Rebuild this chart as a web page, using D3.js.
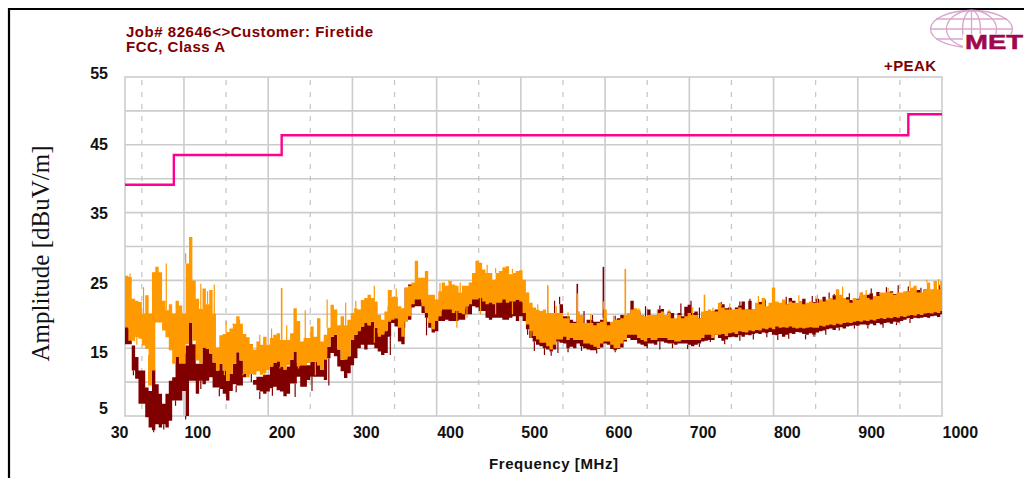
<!DOCTYPE html>
<html>
<head>
<meta charset="utf-8">
<title>Radiated emissions</title>
<script src="https://cdn.jsdelivr.net/npm/d3@7"></script>
<style>
  html, body { margin: 0; padding: 0; background: #fff; overflow: hidden; }
  text { font-family: "Liberation Sans", Arial, sans-serif; }
</style>
</head>
<body>
<div id="chart"></div>
<script>
// envelope of each sweep, one bin every 4 MHz from 30 MHz
var freq = d3.range(30, 1000, 4);

var orangeHi = [
  25.7,25.5,22.3,22,21.8,20.1,22.8,20.1,26.2,27,26.2,22,20.6,21.5,20.1,22,21.3,20.1,27.5,31.4,25,22.3,20.8,23.8,21.5,23.6,20.1,15.1,16.9,17.1,17.4,17.9,18.6,19.7,18.6,17.1,16.6,15.6,
  14.8,16,15.5,16.7,15.5,16.5,17,17.2,16.2,16.2,16.2,17.2,20.9,19,16,16.5,16.5,18.2,16.7,19.4,16,17,18,21.4,20.7,18.4,19.7,18.4,19.2,20.2,20.9,20.7,22.1,22.4,22.9,22.4,21.9,19.9,19.2,20.4,23.6,22.6,22.6,21.2,20.9,23.9,
  24.2,24.7,27.9,25.4,25.4,26.4,22.9,22.9,22.2,23.4,24.7,24.2,24.9,24.4,24.2,23.2,24.2,24.2,24.7,26.1,27.9,27.6,26.6,26.1,26.1,25.1,26.1,26.4,26.9,27.1,25.9,26.1,26.4,26.5,25.1,23.2,21.7,21,20.7,20.5,20.7,20.2,20.2,20.2,20.2,20.2,
  19.4,19.4,18.7,18.7,20.4,19.9,18.7,18.7,18.7,18.4,18.7,18.9,20.7,18.4,18.9,19.2,19.2,19.4,19.9,20.2,20.7,20.9,20.7,19.9,19.7,19.9,19.9,19.9,20.2,20.4,19.9,20.2,19.4,19.4,19.9,19.4,19.7,20.2,19.9,19.9,19.4,20.4,20.4,20.7,20.4,20.4,
  21.7,21,20.7,20.7,20.7,20.8,21,20.7,20.8,20.7,20.8,21.7,21.5,22.4,21.2,21.7,23.9,21.9,21.7,22.2,21.5,21.9,21.7,21.7,21.9,21.5,21.7,21.9,21.7,21.7,22.2,21.9,22.2,22.4,22.2,23.7,22.9,22.4,22.2,21.7,22.4,22.2,23.2,22.9,22.4,22.2,22.7,22.7,23.2,23.2,23.2,23.2,22.9,23.2,23.2,23.4,23.4,23.9,24.2,23.2,23.2,23.7,24.7,23.7,24.9,23.7,24.9
];

var orangeLo = [
  18.1,16.1,16.1,16.6,16.4,15.4,14.9,9.5,11.7,18.8,18.8,17.6,16.6,14.7,12.7,13.7,12.7,12.7,15.6,18.8,16.1,13.2,12.7,15.1,14.9,14.2,12.9,11.7,12.7,11.7,10.2,11.2,12.7,14.4,13.2,11.2,10.7,11.2,
  11.1,11.6,11.1,11.3,11.8,12.3,12.8,13,12.3,11.8,12.5,13.3,14.5,12.3,12.5,12.5,12.8,13,13,12.5,11.8,13.3,15.2,16.7,17,14.8,13.3,13.3,13.8,16.2,17,17.5,18.2,18.7,18.4,18.9,18,16.7,17,17.5,18.9,19.2,19.4,18,16.7,18.9,
  19.7,21.5,22.2,22.2,21.2,20.2,18.7,17.8,19,19.7,20.7,20.7,20.7,20.2,20.5,20.2,20,21.2,21.5,22.2,22.2,22.4,21.9,21.5,21.7,21.5,21.7,21.7,22.2,21.7,21.9,21.9,22.2,21.9,20.2,18.5,17.5,16.8,16.3,15.8,15.8,15.3,14.8,15.5,16.3,16.3,
  16.7,16.2,16.5,16.2,16.2,16.2,15.7,15.7,15.5,15.2,15,15.7,16,16,15.5,15,15,15.7,16.2,17,17,17,16.5,16.2,16,16.5,16.2,16.2,16.5,16.5,16.5,16.2,16.2,16,16,16.2,16.2,16.2,16.2,16.2,16.2,16.5,17,17,16.5,17,
  17,17.1,16.8,17.2,17.3,17.1,17.5,17.4,17.3,17.6,17.5,17.7,17.6,17.9,17.8,18,17.8,18.2,18,18.1,18,18.2,18,17.9,18,17.9,18,18.1,18,18,18.3,18.2,18.4,18.5,18.4,18.6,18.5,18.7,18.8,18.7,18.9,19,18.9,19.1,19,19.2,19.1,19.3,19.4,19.3,19.5,19.4,19.6,19.5,19.7,19.6,19.8,19.9,19.8,20,19.9,20.1,20.2,20.1,20.3,20.2,20.5
];

var maroonHi = [
  18.1,17.9,15.4,13.7,11.7,11.7,9.2,8.7,11.9,9.7,8.3,6.8,8.3,10.2,10.7,13.7,13.7,14.2,15.4,18.8,15.6,12.7,12.7,15.1,14.9,14.2,12.9,11.7,12.7,11.7,10.2,11.2,12.7,14.4,13.2,11.2,10.7,15.6,
  10.3,10.8,10.8,11.1,11.1,12.3,12.8,13.3,12.3,12,12.3,13.3,14.5,12.8,12.5,12.5,12.5,13,13,12.5,11.8,13.8,15.2,16.7,17,14.8,13.3,13.5,13.8,16.2,17,17.7,18.2,18.7,18.4,18.9,18,17.2,17.2,17.7,21.2,21.7,19.4,19.2,19.2,23.9,
  24.4,24.4,22.4,22.6,21.7,20.5,19,18,19.5,20.5,20.8,21,21,20.7,20.7,20.5,20.8,21.2,22.2,22.4,22.7,23.3,22.4,22.2,21.9,22.2,22.4,22.2,22.4,22.8,22.2,22.7,22.2,22.4,21.7,20.7,20.8,20.8,20.2,20.2,20.2,19,19,20.2,20.2,21.5,
  19.7,19.7,19.2,18.9,19.4,19.4,18.7,19.2,19.2,18.9,18.9,19.2,19.4,18.9,18.7,19.2,19.4,19.9,19.9,20.2,22,20.7,20.4,19.9,19.4,20.7,19.7,19.9,20.7,20.8,19.9,20.4,20.2,19.2,20.2,19.7,21.1,21.4,20.2,20.4,19.4,19.9,20.4,19.9,20.4,20.7,
  21.2,21.5,20.9,21,20.5,21,21.3,21.9,20.6,22,20.7,21.6,21.8,22,21,21.2,21.5,21,21.4,21.9,21.5,22.4,22,21.6,21.9,22.3,21.5,21.4,21.8,22.3,21.8,22.6,22,22.2,22.8,22,22.2,21.9,22.5,22.1,21.9,22.3,22.7,22.4,22.9,23.1,22.2,23.3,22.8,22.6,23.2,23.4,23,22.9,23.1,22.6,23.4,23.8,23.5,23.6,23.1,23.7,23.2,23.3,23.7,23.4,23.9
];

var maroonLo = [
  15.6,15.6,11.7,10.5,6.8,6.8,4.8,3.3,2.9,3.8,3.3,3.8,3.3,4.3,7.3,7.3,7.3,8.7,5,10.2,10.2,8.3,10.2,9.7,10.2,10.7,9.2,9.2,9,8.3,7.3,8.7,9.7,9.5,9.5,10.7,10.7,11.2,
  9.6,8.8,8.6,8.3,8.6,9.1,9.3,8.8,8.6,7.9,8.3,9.8,9.8,10.8,9.3,9.3,10.3,10.8,10.8,10.8,10.8,10.3,13.5,14.3,13.8,12.3,11.6,10.6,11.3,12.5,13.5,15,15.5,14.8,15.5,15.5,15,14.5,14,14.3,16.7,18.7,18.2,16,15.6,19.7,
  19.2,21,21.2,21.2,20.2,19.5,18,17.3,17.5,19,19,19.2,19,19,19,19.2,19.2,20,20,21.2,21,20.5,20.5,19.5,19.2,19.5,19.5,19.5,19.2,19.2,19.5,19.7,19,19.7,19,17.8,16.5,16,15.5,15.3,15,14.8,14.5,14.8,16,15.8,
  15.7,15,15.2,15,15.7,15.3,15,14.8,14.7,14.7,14.9,15.1,15.7,15.5,14.9,14.7,14.9,15.1,16,16.5,16.2,16.2,15.7,15.5,15.3,15.7,15.7,15.5,16,16,15.8,15.7,15.7,15.5,15.7,15.7,15.7,15.5,15.3,15.5,15.7,16,16.1,16.2,16.2,17,
  16.5,16.1,16.3,16.6,16.7,16.6,16.9,16.7,17,16.9,17.1,17.2,17.1,17.3,17.2,17.4,17,16.9,17.1,16.7,17,17.2,17.1,17.4,17.3,17.1,17,17.2,17,17.3,17.5,17.6,17.8,17.9,17.7,18,18.1,17.9,18.2,18.3,18.4,18.3,18.5,18.5,18.4,18.6,18.4,18.7,18.5,18.7,18.8,18.6,18.9,18.8,19,19.2,19.4,19.3,19.5,19.4,19.5,19.6,19.5,19.7,19.8,19.6,20
];

// narrow emissions that stick out of the band
var orangeSpikeFreq = [216, 532, 567, 598, 624, 718];
var orangeSpikeTop = [23.9, 24.3, 23.1, 21.9, 26.7, 22.9];
var maroonSpikeFreq = [567, 598];
var maroonSpikeTop = [24.5, 27];

// thin hairs on the band edges
var orangeUpFreq = [36,52,64,70,79,102,120,128,136,150,158,166,190,204,222,244,270,292,304,326,346,352,388,404,414,428,460,470,480,490,508,520,542,556,583,610,640,662,676,704,728,748,782,800,830,852,882,910,936,962,982,996];
var orangeUpTop = [26,24,23.5,23.5,27.5,29,24.5,23.4,24.4,19,18.5,19.2,17,17.9,18.4,20.6,22.2,21.7,22,24.2,23.6,23.8,24,24.6,25,24.7,27.3,26.8,27,26.7,21.9,21.5,21.2,20.3,20,19.8,20.9,20.6,20.7,21,21,21.6,22.7,24,22.8,22.9,24.1,23.6,23.9,24.9,25.1,25.2];
var orangeDownFreq = [44,58,148,170,196,214,236,256,290,326,424,436,452,470,490,512];
var orangeDownEnd = [15.5,14,11,11,11,12,12,11,14,15.8,18,19.5,20,20,20,16.5];
var maroonUpFreq = [540,546,575,585,612,648,665,690,702,712,738,760,772,790,815,846,866,872,890,905,916,934,948,960,975,997];
var maroonUpTop = [22,22.6,20.5,19.9,19.8,21.2,21.3,21.6,22,21,21.8,21.9,22.3,22.2,22.6,22.7,23.2,23,23.1,23.2,23.8,24,24.3,24.1,23.9,24.3];
var maroonDownFreq = [40,64,76,90,102,120,142,162,180,190,205,232,252,272,345,362,388,508,516,528,536,544,556,572,590,612,650,665,680,698,712,725,742,760,776,792,805,818,838,848,862,878,896,912,930,946,962,985];
var maroonDownEnd = [11,2.6,3,6.5,4.5,9,7.9,8.5,10,7.5,8,7.8,8.7,9.5,14,18,16.9,17,14.6,14,13.9,14.3,14.4,14.6,14.2,14.4,15,14.8,15,14.9,15.2,15.9,15.6,16.1,16.3,16.6,16.2,16.4,16.3,16.7,17,17.6,17.9,17.9,18,18.4,18.7,19.6];

// FCC class A limit
var limitFreq = [30, 88, 216, 960, 1000];
var limitValue = [39.1, 43.5, 46.4, 49.5, 49.5];

var gridFreq = [100, 200, 300, 400, 500, 600, 700, 800, 900];
var dashFreq = [50, 150, 250, 350, 450, 550, 650, 750, 850, 950];
var gridAmp = [10, 15, 20, 25, 30, 35, 40, 45, 50];
var freqTicks = [30, 100, 200, 300, 400, 500, 600, 700, 800, 900, 1000];
var ampTicks = [5, 15, 25, 35, 45, 55];

var maroon = "#800000", orange = "#ff9900", pink = "#ff0090", gridGrey = "#cccccc";

var margin = {top: 77, right: 82, bottom: 62, left: 125},
    width = 1024 - margin.left - margin.right,
    height = 478 - margin.top - margin.bottom;

var outer = d3.select("#chart").append("svg")
    .attr("width", 1024)
    .attr("height", 478)
    .style("display", "block");

// page frame, the right and bottom sides are cut off in the picture
outer.append("path")
    .attr("d", "M9,478V9H1024")
    .attr("fill", "none")
    .attr("stroke", "#000")
    .attr("stroke-width", 2.2);

var svg = outer.append("g")
    .attr("transform", "translate(" + margin.left + "," + margin.top + ")");

var x = d3.scaleLinear().domain([30, 1000]).range([0, width]);
var y = d3.scaleLinear().domain([5, 55]).range([height, 0]);

svg.append("rect")
    .attr("width", width)
    .attr("height", height)
    .attr("fill", "none")
    .attr("stroke", gridGrey)
    .attr("stroke-width", 1.6);

svg.append("g").selectAll("line").data(gridFreq).enter().append("line")
    .attr("x1", function(d) { return x(d); })
    .attr("x2", function(d) { return x(d); })
    .attr("y2", height)
    .attr("stroke", gridGrey)
    .attr("stroke-width", 1.6);

svg.append("g").selectAll("line").data(gridAmp).enter().append("line")
    .attr("y1", function(d) { return y(d); })
    .attr("y2", function(d) { return y(d); })
    .attr("x2", width)
    .attr("stroke", gridGrey)
    .attr("stroke-width", 1.6);

svg.append("g").selectAll("line").data(dashFreq).enter().append("line")
    .attr("x1", function(d) { return x(d); })
    .attr("x2", function(d) { return x(d); })
    .attr("y1", 3)
    .attr("y2", height)
    .attr("stroke", "#c4c4c4")
    .attr("stroke-width", 1.2)
    .attr("stroke-dasharray", "5,7");

// stepped area, one closing point so the last bin keeps its width
function drawBand(hi, lo, color) {
    var last = hi.length - 1;
    var band = d3.area()
        .x(function(d) { return x(d); })
        .y0(function(d, i) { return y(lo[Math.min(i, last)]); })
        .y1(function(d, i) { return y(hi[Math.min(i, last)]); })
        .curve(d3.curveStepAfter);
    svg.append("path")
        .attr("d", band(freq.concat([1000])))
        .attr("fill", color);
}

// vertical line from the band edge in that bin out to the given value
function drawSpikes(f, end, edge, color, w) {
    svg.append("g").selectAll("line").data(f).enter().append("line")
        .attr("x1", function(d) { return x(d); })
        .attr("x2", function(d) { return x(d); })
        .attr("y1", function(d, i) { return y(end[i]); })
        .attr("y2", function(d) { return y(edge[Math.floor((d - 30) / 4)]); })
        .attr("stroke", color)
        .attr("stroke-width", w);
}

drawBand(maroonHi, maroonLo, maroon);
drawSpikes(maroonSpikeFreq, maroonSpikeTop, maroonHi, maroon, 1.6);
drawSpikes(maroonUpFreq, maroonUpTop, maroonHi, maroon, 1.2);
drawSpikes(maroonDownFreq, maroonDownEnd, maroonLo, maroon, 1.2);
drawBand(orangeHi, orangeLo, orange);
drawSpikes(orangeSpikeFreq, orangeSpikeTop, orangeHi, orange, 1.6);
drawSpikes(orangeUpFreq, orangeUpTop, orangeHi, orange, 1.2);
drawSpikes(orangeDownFreq, orangeDownEnd, orangeLo, orange, 1.2);

var limitLine = d3.line()
    .x(function(d) { return x(d); })
    .y(function(d, i) { return y(limitValue[i]); })
    .curve(d3.curveStepAfter);

svg.append("path")
    .attr("d", limitLine(limitFreq))
    .attr("fill", "none")
    .attr("stroke", pink)
    .attr("stroke-width", 2.4);

// the original labels sit right of their gridline and drift a little from the y grid
var xAxis = svg.append("g")
    .attr("transform", "translate(0," + height + ")")
    .call(d3.axisBottom(x).tickValues(freqTicks).tickSize(0).tickFormat(d3.format("d")));
xAxis.select(".domain").remove();
xAxis.selectAll("text")
    .attr("text-anchor", function(d) { return d === 30 ? "end" : "start"; })
    .attr("dx", function(d) { return d === 30 ? 3 : 0; })
    .attr("y", 11)
    .attr("dy", "0.71em")
    .attr("fill", "#111")
    .style("font-size", "16px")
    .style("font-weight", "bold");

var ampNudge = {5: -8, 15: 4, 25: 2.5, 35: 0.5, 45: -0.7, 55: -3.7};
var yAxis = svg.append("g")
    .call(d3.axisLeft(y).tickValues(ampTicks).tickSize(0));
yAxis.select(".domain").remove();
yAxis.selectAll("text")
    .attr("x", -17)
    .attr("dy", function(d) { return ampNudge[d] + 5.5; })
    .attr("fill", "#111")
    .style("font-size", "16px")
    .style("font-weight", "bold");

outer.append("text")
    .attr("x", 126).attr("y", 37)
    .attr("fill", maroon)
    .style("font-size", "15px").style("font-weight", "bold")
    .attr("textLength", 247)
    .text("Job# 82646<>Customer: Firetide");
outer.append("text")
    .attr("x", 126).attr("y", 52)
    .attr("fill", maroon)
    .style("font-size", "15px").style("font-weight", "bold")
    .attr("textLength", 99)
    .text("FCC, Class A");
outer.append("text")
    .attr("x", 884).attr("y", 71)
    .attr("fill", maroon)
    .style("font-size", "15px").style("font-weight", "bold")
    .attr("textLength", 52)
    .text("+PEAK");

outer.append("text")
    .attr("x", 489).attr("y", 469)
    .attr("fill", "#111")
    .style("font-size", "15px").style("font-weight", "bold")
    .attr("textLength", 129)
    .text("Frequency [MHz]");

outer.append("text")
    .attr("transform", "translate(49,253.5) rotate(-90)")
    .attr("text-anchor", "middle")
    .attr("fill", "#111")
    .style("font-family", "'Liberation Serif', serif")
    .style("font-size", "25px")
    .text("Amplitude [dBuV/m]");

// logo top right: globe with the name running off the page
var logo = outer.append("g").attr("fill", "none").attr("stroke", "#d9a6cc").attr("stroke-width", 1.3);
logo.append("ellipse").attr("cx", 971.5).attr("cy", 29).attr("rx", 41).attr("ry", 18.5);
logo.append("ellipse").attr("cx", 971.5).attr("cy", 29).attr("rx", 25).attr("ry", 18.5);
logo.append("ellipse").attr("cx", 971.5).attr("cy", 29).attr("rx", 9).attr("ry", 18.5);
logo.append("path").attr("d", "M930.5,29H1012.5M936,19H1007M936,39H965M971.5,10.5V35");
outer.append("rect").attr("x", 963).attr("y", 34).attr("width", 61).attr("height", 16).attr("fill", "#fff");
outer.append("text")
    .attr("x", 965).attr("y", 49)
    .attr("fill", "#a0084e")
    .style("font-size", "20px").style("font-weight", "900")
    .style("stroke", "#a0084e").style("stroke-width", "0.5px")
    .attr("textLength", 58)
    .attr("lengthAdjust", "spacingAndGlyphs")
    .text("MET");
</script>
</body>
</html>
